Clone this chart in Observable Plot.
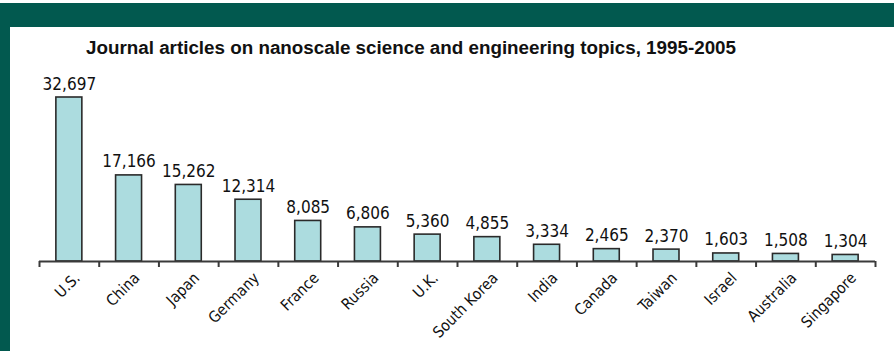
<!DOCTYPE html>
<html>
<head>
<meta charset="utf-8">
<script src="https://cdn.jsdelivr.net/npm/d3@7"></script>
<script src="https://cdn.jsdelivr.net/npm/@observablehq/plot@0.6"></script>
<style>
  html, body { margin: 0; padding: 0; background: #fff; }
  #page { position: relative; width: 894px; height: 351px; overflow: hidden; background: #fff; }
  #band-top { position: absolute; left: 0; top: 3px; width: 894px; height: 24px; background: #02594f; }
  #band-left { position: absolute; left: 0; top: 3px; width: 10px; height: 348px; background: #02594f; }
  #title { position: absolute; left: 86px; top: 39px; margin: 0; white-space: nowrap;
    font-family: "Liberation Sans", Arial, sans-serif; font-weight: bold; font-size: 18px;
    color: #111; transform-origin: 0 0; line-height: 1; }
  #chart { position: absolute; left: 0; top: 60px; }
</style>
</head>
<body>
<div id="page">
  <div id="band-top"></div>
  <div id="band-left"></div>
  <div id="title">Journal articles on nanoscale science and engineering topics, 1995-2005</div>
  <div id="chart"></div>
</div>
<script>
// Articles per country, 1995-2005
const countries = ["U.S.", "China", "Japan", "Germany", "France", "Russia", "U.K.",
  "South Korea", "India", "Canada", "Taiwan", "Israel", "Australia", "Singapore"];
const articles = [32697, 17166, 15262, 12314, 8085, 6806, 5360,
  4855, 3334, 2465, 2370, 1603, 1508, 1304];

const data = countries.map((country, i) => ({country, articles: articles[i]}));

const width = 894, height = 291;
const marginTop = 37, marginBottom = 90, marginLeft = 39, marginRight = 19;
const step = (width - marginLeft - marginRight) / countries.length;
const font = '"DejaVu Sans Condensed", "DejaVu Sans", sans-serif';

const chart = Plot.plot({
  width, height, marginTop, marginBottom, marginLeft, marginRight,
  style: {fontFamily: font, fontStretch: "condensed", color: "#111", background: "transparent"},
  x: {domain: countries, paddingInner: 0.565, paddingOuter: 0.2825, round: false, label: null},
  y: {domain: [0, d3.max(articles)], axis: null},
  marks: [
    Plot.barY(data, {x: "country", y: "articles", fill: "#acdcdf", stroke: "#2a2a2a", strokeWidth: 1.6}),
    Plot.text(data, {x: "country", y: "articles", text: d => d3.format(",")(d.articles),
      lineAnchor: "bottom", dy: -8, fontSize: 17, fill: "#111"}),
    // baseline and boundary ticks between categories
    Plot.ruleY([0], {stroke: "#3a3a3a", strokeWidth: 2}),
    Plot.tickX(data, {x: "country", dx: -step / 2, stroke: "#3a3a3a", strokeWidth: 2,
      insetTop: height - marginTop - marginBottom, insetBottom: -6}),
    Plot.tickX(data.slice(-1), {x: "country", dx: step / 2, stroke: "#3a3a3a", strokeWidth: 2,
      insetTop: height - marginTop - marginBottom, insetBottom: -6}),
    Plot.axisX({tickSize: 0, tickPadding: 14, tickRotate: -45, fontSize: 15.5, dx: 8,
      fill: "#111", label: null})
  ]
});
document.getElementById("chart").appendChild(chart);

// condense the bold heading to its set measure
const title = document.getElementById("title");
const w = title.getBoundingClientRect().width;
title.style.transform = `scaleX(${650 / w})`;
</script>
</body>
</html>
